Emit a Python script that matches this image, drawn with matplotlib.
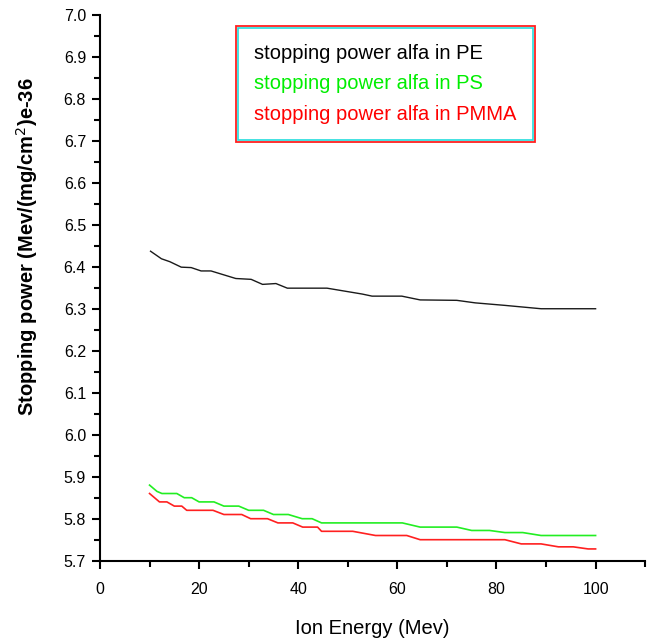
import matplotlib
matplotlib.use("Agg")
import matplotlib.pyplot as plt
from matplotlib.ticker import MultipleLocator
from matplotlib.patches import Rectangle

plt.rcParams['font.family'] = ['Liberation Sans', 'DejaVu Sans']

# Data
pe_x = [10.2, 12.4, 14.1, 16.4, 18.4, 20.4, 22.4, 27.4, 30.5, 32.8, 35.5, 37.8, 45.8, 52.9, 54.9, 60.9, 64.6, 72.0, 75.7, 81.7, 89.0, 100.0]
pe_y = [6.437, 6.419, 6.412, 6.399, 6.398, 6.390, 6.390, 6.372, 6.370, 6.358, 6.360, 6.349, 6.349, 6.335, 6.330, 6.330, 6.321, 6.320, 6.314, 6.308, 6.300, 6.300]

ps_x = [10, 11.5, 12.5, 15.5, 17, 18.5, 20, 23, 25, 28, 30, 33, 35, 38, 40.8, 42.8, 44.7, 61, 64.6, 72, 75, 78.6, 81.7, 85.3, 89, 100]
ps_y = [5.88, 5.865, 5.86, 5.86, 5.85, 5.85, 5.84, 5.84, 5.83, 5.83, 5.82, 5.82, 5.81, 5.81, 5.80, 5.80, 5.79, 5.79, 5.78, 5.78, 5.772, 5.772, 5.767, 5.767, 5.76, 5.76]

pmma_x = [10, 11, 12, 13.5, 15, 16.5, 17.5, 22.8, 25, 28.6, 30.4, 33.8, 35.9, 38.9, 40.9, 43.9, 44.7, 51, 55.6, 61.9, 64.6, 81.7, 85, 89, 92.5, 95.5, 98.5, 100]
pmma_y = [5.86, 5.85, 5.84, 5.84, 5.83, 5.83, 5.82, 5.82, 5.81, 5.81, 5.80, 5.80, 5.79, 5.79, 5.78, 5.78, 5.77, 5.77, 5.76, 5.76, 5.75, 5.75, 5.74, 5.74, 5.733, 5.733, 5.728, 5.728]

labels = ["stopping power alfa in PE", "stopping power alfa in PS", "stopping power alfa in PMMA"]
colors = ["#1a1a1a", "#22ee22", "#ff2020"]
text_colors = ["#000000", "#00ee00", "#ff0000"]

x_ticks = [0, 20, 40, 60, 80, 100]
y_ticks = [5.7, 5.8, 5.9, 6.0, 6.1, 6.2, 6.3, 6.4, 6.5, 6.6, 6.7, 6.8, 6.9, 7.0]

fig = plt.figure(figsize=(6.6, 6.43), dpi=100)
ax = fig.add_axes([0.1515, 0.128, 0.826, 0.849])

ax.plot(pe_x, pe_y, color=colors[0], lw=1.0, label=labels[0])
ax.plot(ps_x, ps_y, color=colors[1], lw=1.2, label=labels[1])
ax.plot(pmma_x, pmma_y, color=colors[2], lw=1.2, label=labels[2])

ax.set_xlim(0, 110)
ax.set_ylim(5.7, 7.0)
ax.set_xticks(x_ticks)
ax.set_yticks(y_ticks)
ax.set_yticklabels([f"{v:.1f}" for v in y_ticks])
ax.xaxis.set_minor_locator(MultipleLocator(10))
ax.yaxis.set_minor_locator(MultipleLocator(0.05))
ax.spines['top'].set_visible(False)
ax.spines['right'].set_visible(False)
for s in ['left', 'bottom']:
    ax.spines[s].set_linewidth(1.5)
ax.tick_params(axis='both', which='major', direction='out', length=6, width=1.5, labelsize=11.5)
ax.tick_params(axis='x', which='major', pad=9)
ax.tick_params(axis='y', which='major', pad=4)
ax.tick_params(axis='both', which='minor', direction='out', length=4, width=1.5)

ax.set_xlabel("Ion Energy (Mev)", fontsize=14.5, labelpad=16)
ax.set_ylabel("Stopping power (Mev/(mg/cm$^2$)e-36", fontsize=14.5, fontweight='bold')
ax.yaxis.set_label_coords(-0.11, 0.575)

leg = ax.legend(loc='upper left', bbox_to_anchor=(0.253, 0.976), handlelength=0, handletextpad=0,
                fontsize=14.5, frameon=True, fancybox=False, framealpha=1.0, facecolor='white',
                borderpad=0.8, labelspacing=0.56, borderaxespad=0)
for h in leg.legend_handles:
    h.set_visible(False)
for t, c in zip(leg.get_texts(), text_colors):
    t.set_color(c)
frame = leg.get_frame()
frame.set_edgecolor('#22dddd')
frame.set_linewidth(1.2)

fig.canvas.draw()
bb = leg.get_window_extent()
pad = 2
fig.patches.append(Rectangle((bb.x0 - pad, bb.y0 - pad), bb.width + 2 * pad, bb.height + 2 * pad,
                             transform=None, fill=False, edgecolor='#ff2020', linewidth=1.3, zorder=10))

fig.savefig("out.png", dpi=100)
